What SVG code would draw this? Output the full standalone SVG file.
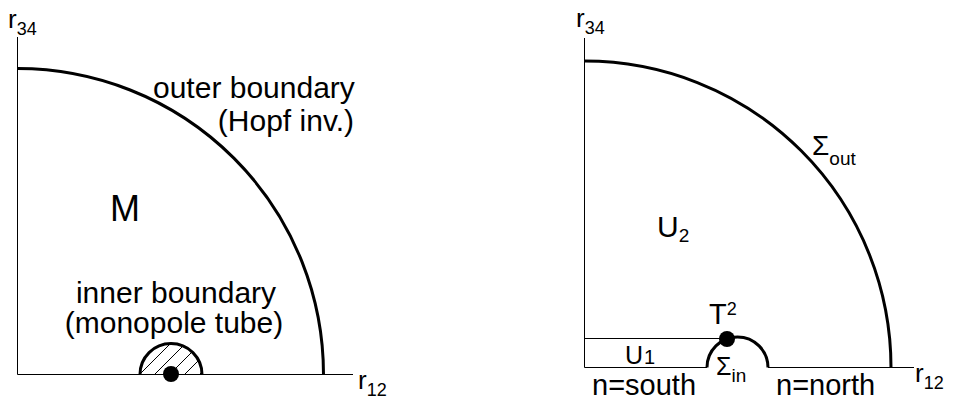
<svg xmlns="http://www.w3.org/2000/svg" width="955" height="402" viewBox="0 0 955 402">
<style>
text{font-family:"Liberation Sans",Arial,sans-serif;fill:#000}
.ax{stroke:#000;stroke-width:1;fill:none}
.arc{stroke:#000;stroke-width:3;fill:none}
.hat{stroke:#000;stroke-width:1}
.lab{font-size:30px}
.sub{font-size:18px}
</style>
<defs>
<clipPath id="semi"><path d="M140,374.5 A31,31 0 0 1 202,374.5 Z"/></clipPath>
</defs>
<g id="left-panel">
<g id="left-axes">
<line class="ax" x1="17.5" y1="37" x2="17.5" y2="374.5"/>
<line class="ax" x1="17.5" y1="374.5" x2="353" y2="374.5"/>
</g>
<g id="left-outer-boundary">
<path class="arc" d="M17.5,68.5 A306,306 0 0 1 323.5,374.5"/>
</g>
<g id="left-inner-boundary">
<g clip-path="url(#semi)">
<line class="hat" x1="124" y1="375" x2="164" y2="335"/>
<line class="hat" x1="139" y1="375" x2="179" y2="335"/>
<line class="hat" x1="154" y1="375" x2="194" y2="335"/>
<line class="hat" x1="169" y1="375" x2="209" y2="335"/>
<line class="hat" x1="184" y1="375" x2="224" y2="335"/>
<line class="hat" x1="199" y1="375" x2="239" y2="335"/>
</g>
<path class="arc" d="M140,374.5 A31,31 0 0 1 202,374.5"/>
<circle cx="171" cy="374" r="8" fill="#000"/>
</g>
<g id="left-labels">
<text x="8" y="28" font-size="26">r<tspan class="sub" dy="7">34</tspan></text>
<text x="358" y="389" font-size="26">r<tspan class="sub" dy="7">12</tspan></text>
<text class="lab" x="153" y="98">outer boundary</text>
<text class="lab" x="354" y="131" text-anchor="end">(Hopf inv.)</text>
<text x="110" y="221" font-size="36">M</text>
<text class="lab" x="176" y="303" text-anchor="middle">inner boundary</text>
<text class="lab" x="174" y="333" text-anchor="middle">(monopole tube)</text>
</g>
</g>
<g id="right-panel">
<g id="right-axes">
<line class="ax" x1="584.5" y1="38" x2="584.5" y2="367.5"/>
<line class="ax" x1="584.5" y1="367.5" x2="707" y2="367.5"/>
<line class="ax" x1="768" y1="367.5" x2="914" y2="367.5"/>
</g>
<g id="U1-region">
<line class="ax" x1="584.5" y1="338.5" x2="727" y2="338.5"/>
</g>
<g id="sigma-out">
<path class="arc" d="M584.5,61 A306.5,306.5 0 0 1 891,367.5"/>
</g>
<g id="sigma-in">
<path class="arc" d="M707,367.5 A30.5,30.5 0 0 1 768,367.5"/>
<circle cx="727" cy="339" r="8" fill="#000"/>
</g>
<g id="right-labels">
<text x="576" y="27" font-size="26">r<tspan class="sub" dy="7">34</tspan></text>
<text x="915" y="382" font-size="26">r<tspan class="sub" dy="7">12</tspan></text>
<text x="657" y="237" font-size="30">U<tspan font-size="19" dy="5">2</tspan></text>
<text x="812" y="155" font-size="28">Σ<tspan font-size="19" dy="10">out</tspan></text>
<text x="709" y="324" font-size="29">T<tspan font-size="18" dy="-9">2</tspan></text>
<text x="625" y="364" font-size="25">U<tspan font-size="20" dx="1">1</tspan></text>
<text x="716" y="375" font-size="25">Σ<tspan font-size="19" dy="7">in</tspan></text>
<text x="592" y="395" font-size="29">n=south</text>
<text x="776" y="395" font-size="29">n=north</text>
</g>
</g>
</svg>
